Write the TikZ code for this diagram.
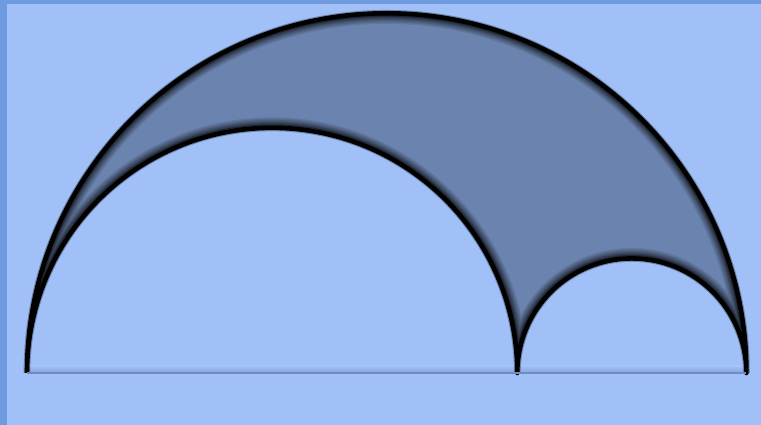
\documentclass[tikz,border=0pt]{standalone}
\usetikzlibrary{calc}
\definecolor{bgblue}{RGB}{160,192,247}
\definecolor{frameblue}{RGB}{110,154,224}
\definecolor{lunefill}{RGB}{107,132,175}
\definecolor{baseblue}{RGB}{112,140,190}
% outline of the shaded lune (big arc, then the two small ones back)
\newcommand{\lunepath}{(A) arc[start angle=180,end angle=0,radius=3.595cm]
  arc[start angle=0,end angle=180,radius=1.145cm]
  arc[start angle=0,end angle=180,radius=2.45cm]}

\begin{document}
\begin{tikzpicture}[
        x=0.01cm, y=0.01cm,
        rim/.style={line width=#1, black, line join=round},
        glow/.style={line width=#1, black, opacity=0.1}
    ]
        % page and its darker edges
        \fill[bgblue] (0,0) rectangle (761,425);
        \fill[frameblue] (0,0) rectangle (7,425);
        \fill[frameblue] (0,421) rectangle (761,425);
        \useasboundingbox (0,0) rectangle (761,425);

        \coordinate (A) at (27,52);
        \coordinate (C) at (517,52);
        \coordinate (B) at (746,52);

        % soft shadow over the diameter
        \shade[top color=bgblue, bottom color=baseblue!55!bgblue]
            ($(A)+(0,0)$) rectangle ($(B)+(0,7)$);

        % the lune
        \fill[lunefill] \lunepath -- cycle;
        \begin{scope}
            \clip \lunepath -- cycle;
            \foreach \w in {6,5.2,4.5,3.9,3.4,3,2.6,2.2}
                \draw[glow=\w pt] \lunepath;
        \end{scope}
        \draw[black, opacity=0.3, line width=1.9pt] \lunepath;
        \draw[rim=1.3pt] \lunepath;

        % diameter
        \draw[baseblue, line width=0.5pt] (A) -- (C) -- (B);
    \end{tikzpicture}
\end{document}
